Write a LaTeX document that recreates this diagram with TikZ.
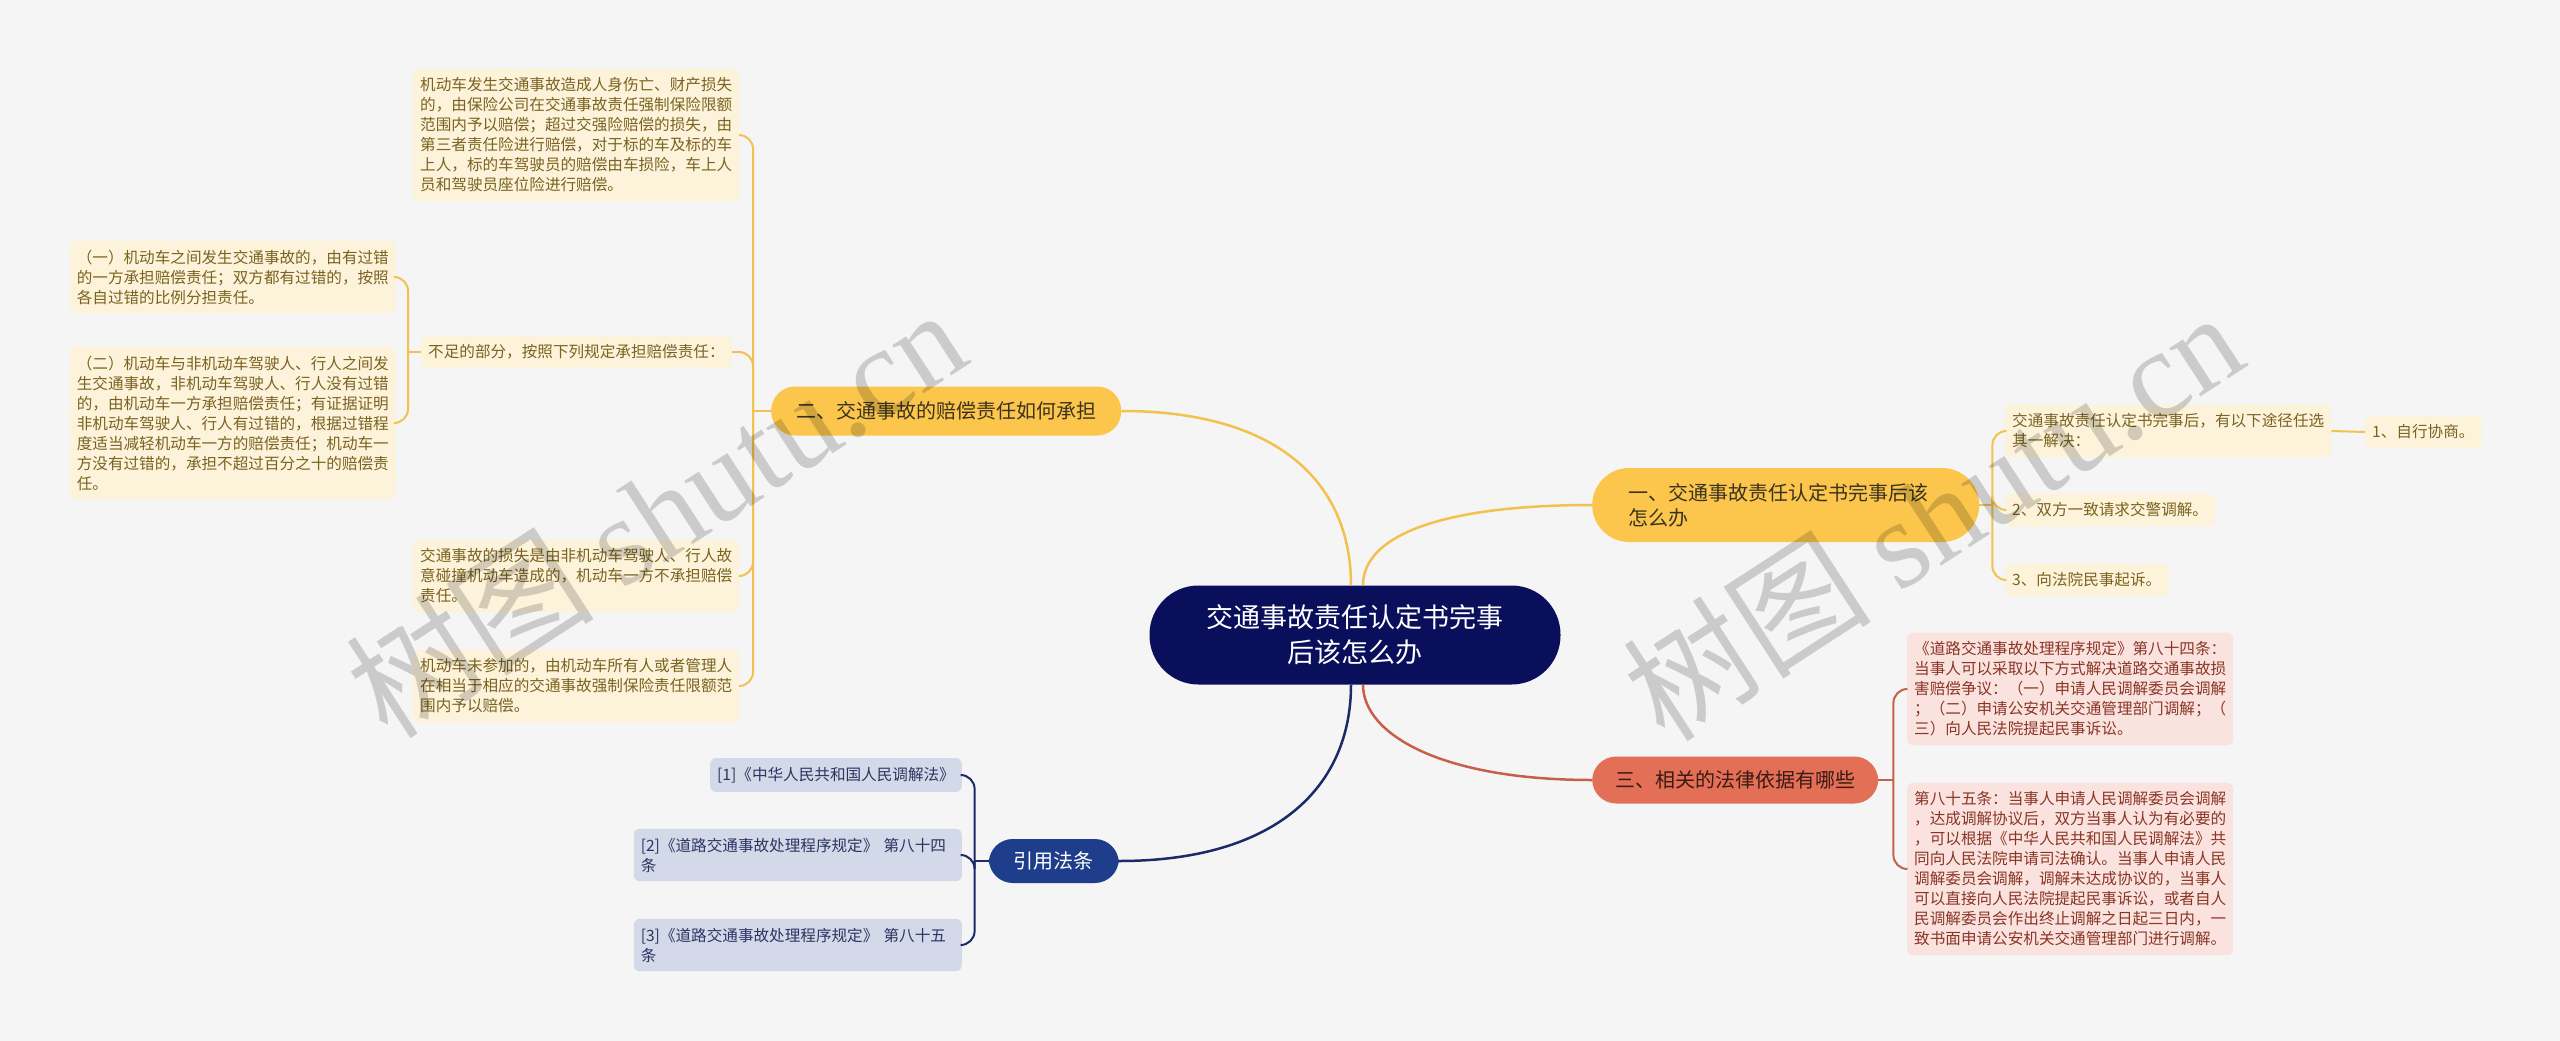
\documentclass[tikz,border=0pt]{standalone}
\usepackage{fontspec}
\setmainfont{Noto Sans CJK SC}
\newfontfamily\wmfont{Liberation Serif}
\definecolor{bg}{HTML}{F5F5F5}
\definecolor{navy}{HTML}{0A0F5C}
\definecolor{yhead}{HTML}{FBC64B}
\definecolor{yedge}{HTML}{F2C14E}
\definecolor{ybox}{HTML}{FDF3DB}
\definecolor{ytext}{HTML}{7A6320}
\definecolor{headtext}{HTML}{3B3320}
\definecolor{rhead}{HTML}{E36F57}
\definecolor{rheadtext}{HTML}{3A1A12}
\definecolor{redge}{HTML}{C6604B}
\definecolor{rbox}{HTML}{FAE3DE}
\definecolor{rtext}{HTML}{8A3526}
\definecolor{bhead}{HTML}{1E3D8A}
\definecolor{bedge}{HTML}{1B2A68}
\definecolor{bbox}{HTML}{D3D9E8}
\definecolor{btext}{HTML}{2B3562}

\begin{document}
\begin{tikzpicture}[x=1pt, y=-1pt,
 topic/.style={shape=rectangle, rounded corners=49pt, fill=navy, text=white, minimum width=411pt, minimum height=99pt, align=center, font=\fontsize{27}{35}\selectfont},
 branch/.style={shape=rectangle, fill=#1, text=headtext, inner xsep=25pt, inner ysep=0pt, minimum height=49pt, rounded corners=24pt, font=\fontsize{20}{25}\selectfont},
 leaf/.style={shape=rectangle, rounded corners=6pt, inner xsep=7pt, inner ysep=9pt, align=left, font=\fontsize{15.6}{20}\selectfont},
 yleaf/.style={leaf, fill=ybox, text=ytext},
 rleaf/.style={leaf, fill=rbox, text=rtext},
 bleaf/.style={leaf, fill=bbox, text=btext},
 yline/.style={draw=yedge, line width=2.5pt},
 rline/.style={draw=redge, line width=2.5pt},
 bline/.style={draw=bedge, line width=2.5pt},
 fork/.style={line width=2pt, rounded corners=14pt},
 wmark/.style={text=black, text opacity=0.17, rotate=33, font=\fontsize{125}{125}\selectfont}]

 % background and page size
 \fill[bg] (0,0) rectangle (2560,1041);
 \useasboundingbox (0,0) rectangle (2560,1041);

 % centre
 \node[topic] (root) at (1355,635) {交通事故责任认定书完事\\后该怎么办};

 % heads
 \node[branch=yhead, anchor=west] (b2) at (771,411) {二、交通事故的赔偿责任如何承担};
 \node[branch=yhead, anchor=west, align=left, text width=315pt, inner xsep=36pt,
  minimum height=74pt, rounded corners=37pt] (b1) at (1592,505) {一、交通事故责任认定书完事后该\\怎么办};
 \node[branch=rhead, anchor=west, text=rheadtext, minimum height=47pt, inner xsep=23pt] (b3) at (1592,780) {三、相关的法律依据有哪些};
 \node[branch=bhead, anchor=east, text=white, minimum height=44pt] (ref) at (1119,861) {引用法条};

 % left side, under b2
 \node[yleaf, anchor=west] (insur) at (413,135) {机动车发生交通事故造成人身伤亡、财产损失\\的，由保险公司在交通事故责任强制保险限额\\范围内予以赔偿；超过交强险赔偿的损失，由\\第三者责任险进行赔偿，对于标的车及标的车\\上人，标的车驾驶员的赔偿由车损险，车上人\\员和驾驶员座位险进行赔偿。};
 \node[yleaf, anchor=west] (lack) at (421,352) {不足的部分，按照下列规定承担赔偿责任：};
 \node[yleaf, anchor=east] (lackA) at (396,277) {（一）机动车之间发生交通事故的，由有过错\\的一方承担赔偿责任；双方都有过错的，按照\\各自过错的比例分担责任。};
 \node[yleaf, anchor=east] (lackB) at (396,423) {（二）机动车与非机动车驾驶人、行人之间发\\生交通事故，非机动车驾驶人、行人没有过错\\的，由机动车一方承担赔偿责任；有证据证明\\非机动车驾驶人、行人有过错的，根据过错程\\度适当减轻机动车一方的赔偿责任；机动车一\\方没有过错的，承担不超过百分之十的赔偿责\\任。};
 \node[yleaf, anchor=west] (ped) at (413,576) {交通事故的损失是由非机动车驾驶人、行人故\\意碰撞机动车造成的，机动车一方不承担赔偿\\责任。};
 \node[yleaf, anchor=west] (nocar) at (413,686) {机动车未参加的，由机动车所有人或者管理人\\在相当于相应的交通事故强制保险责任限额范\\围内予以赔偿。};

 % right side, under b1
 \node[yleaf, anchor=west] (ways) at (2005,431) {交通事故责任认定书完事后，有以下途径任选\\其一解决：};
 \node[yleaf, anchor=west] (w1) at (2365,432) {1、自行协商。};
 \node[yleaf, anchor=west] (w2) at (2005,510) {2、双方一致请求交警调解。};
 \node[yleaf, anchor=west] (w3) at (2005,580) {3、向法院民事起诉。};

 % right side, under b3
 \node[rleaf, anchor=west] (law84) at (1907,689) {《道路交通事故处理程序规定》第八十四条：\\当事人可以采取以下方式解决道路交通事故损\\害赔偿争议：（一）申请人民调解委员会调解\\；（二）申请公安机关交通管理部门调解；（\\三）向人民法院提起民事诉讼。};
 \node[rleaf, anchor=west] (law85) at (1907,869) {第八十五条：当事人申请人民调解委员会调解\\，达成调解协议后，双方当事人认为有必要的\\，可以根据《中华人民共和国人民调解法》共\\同向人民法院申请司法确认。当事人申请人民\\调解委员会调解，调解未达成协议的，当事人\\可以直接向人民法院提起民事诉讼，或者自人\\民调解委员会作出终止调解之日起三日内，一\\致书面申请公安机关交通管理部门进行调解。};

 % left side, under ref
 \node[bleaf, anchor=east] (r1) at (962,775) {[1]《中华人民共和国人民调解法》};
 \node[bleaf, anchor=east, text width=314pt] (r2) at (962,855) {[2]《道路交通事故处理程序规定》 第八十四\\条};
 \node[bleaf, anchor=east, text width=314pt] (r3) at (962,945) {[3]《道路交通事故处理程序规定》 第八十五\\条};

 % centre to heads
 \draw[yline] ([xshift=-4pt]root.north) .. controls +(0,-100) and +(160,0) .. (b2.east);
 \draw[yline] ([xshift=8pt]root.north) .. controls +(0,-50) and +(-150,0) .. (b1.west);
 \draw[rline] ([xshift=8pt]root.south) .. controls +(0,50) and +(-150,0) .. (b3.west);
 \draw[bline] ([xshift=-4pt]root.south) .. controls +(0,100) and +(160,0) .. (ref.east);

 % forks
 \coordinate (b2x) at ([xshift=-18pt]b2.west);
 \draw[yline, fork] (b2.west) -- (b2x);
 \foreach \c in {insur,lack,ped,nocar}
  \draw[yline, fork] (b2x) |- (\c.east);

 \coordinate (lackx) at ([xshift=-13pt]lack.west);
 \draw[yline, fork] (lack.west) -- (lackx);
 \foreach \c in {lackA,lackB}
  \draw[yline, fork] (lackx) |- (\c.east);

 \coordinate (b1x) at ([xshift=13pt]b1.east);
 \draw[yline, fork] (b1.east) -- (b1x);
 \foreach \c in {ways,w2,w3}
  \draw[yline, fork] (b1x) |- (\c.west);
 \draw[yline, fork] (ways.east) -- (w1.west);

 \coordinate (b3x) at ([xshift=15pt]b3.east);
 \draw[rline, fork] (b3.east) -- (b3x);
 \foreach \c in {law84,law85}
  \draw[rline, fork] (b3x) |- (\c.west);

 \coordinate (refx) at ([xshift=-14pt]ref.west);
 \draw[bline, fork] (ref.west) -- (refx);
 \foreach \c in {r1,r2,r3}
  \draw[bline, fork] (refx) |- (\c.east);

 % watermark
 \node[wmark] (wm1) at (655,512) {树图 {\wmfont shutu.cn}};
 \node[wmark] (wm2) at (1932,515) {树图 {\wmfont shutu.cn}};
\end{tikzpicture}
\end{document}
